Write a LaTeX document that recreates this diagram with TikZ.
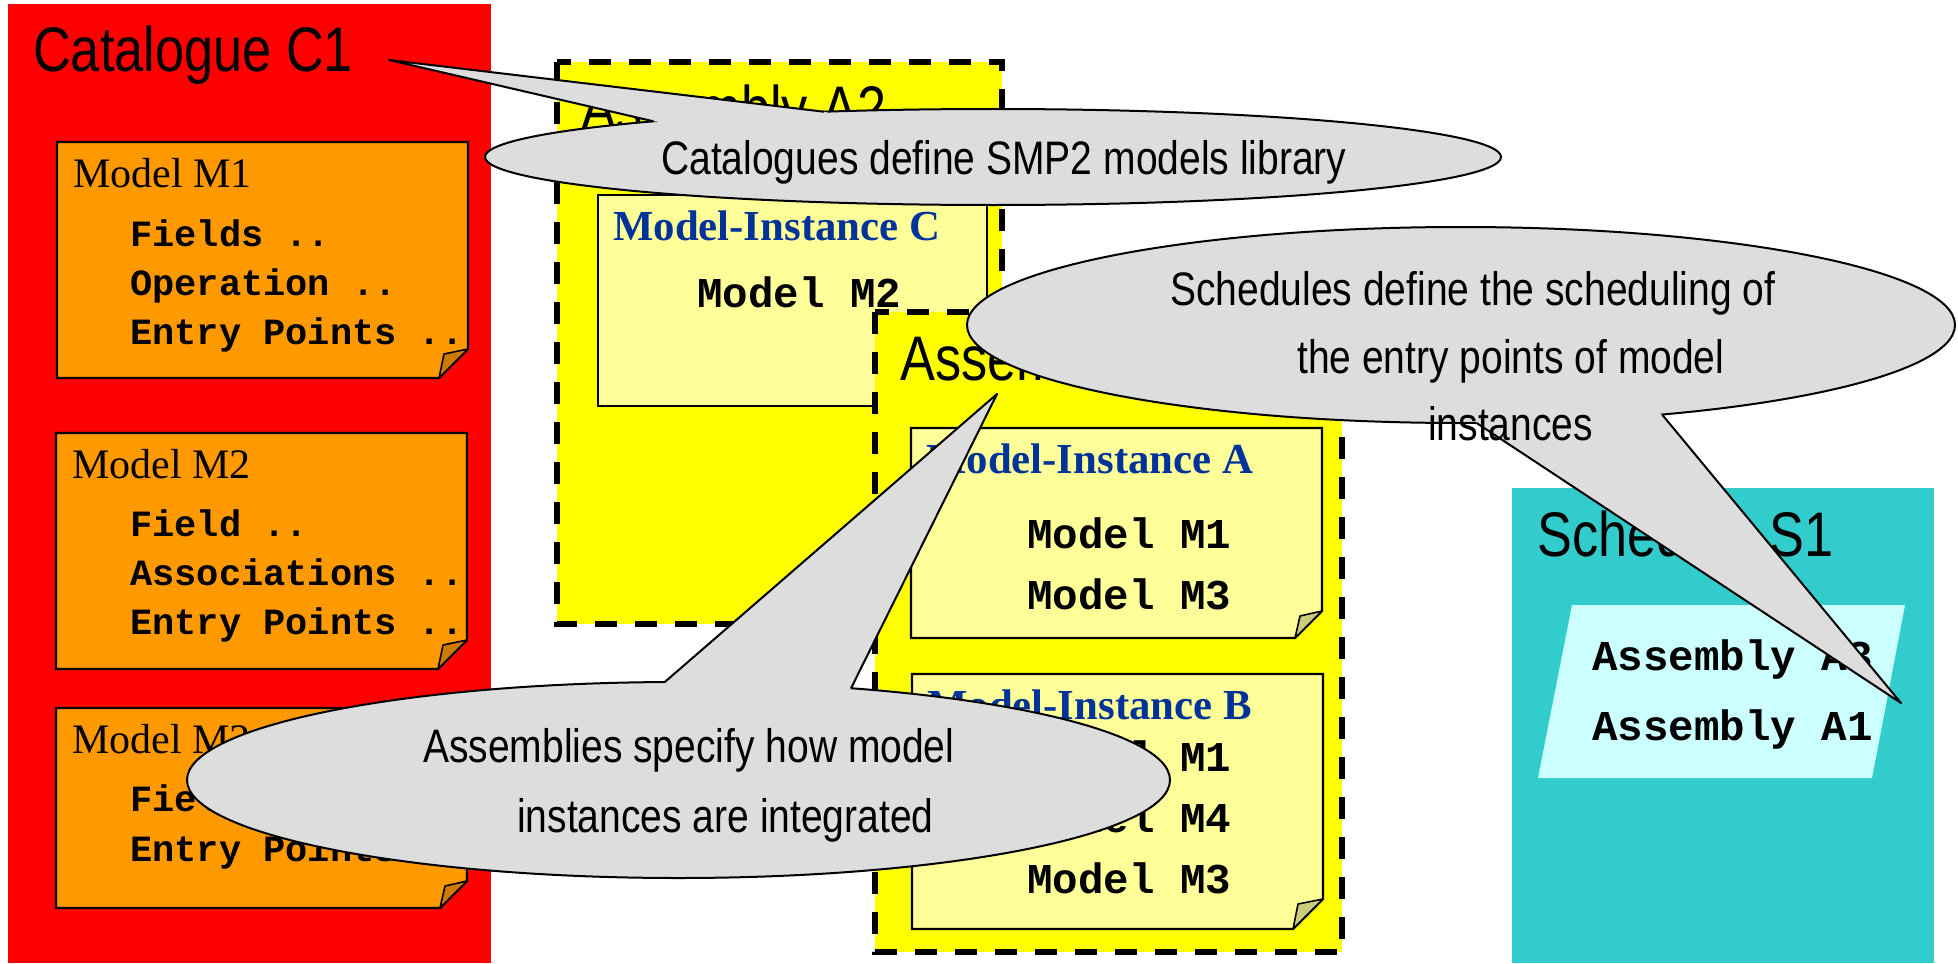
\documentclass[tikz,border=0pt]{standalone}
\usepackage{fontspec}
\setmainfont{Liberation Serif}
\newfontfamily\narrowsans[FakeStretch=0.83]{Liberation Sans}
\newfontfamily\codefont{Liberation Mono}
\usetikzlibrary{shapes.geometric,calc}
\definecolor{redC}{HTML}{FF0000}
\definecolor{orangeM}{HTML}{FF9900}
\definecolor{orangeFold}{HTML}{CC7A00}
\definecolor{yellowA}{HTML}{FFFF00}
\definecolor{paleY}{HTML}{FFFF99}
\definecolor{paleYFold}{HTML}{CCCC7A}
\definecolor{blueT}{HTML}{003399}
\definecolor{tealS}{HTML}{33CCCC}
\definecolor{cyanP}{HTML}{CCFFFF}
\definecolor{grayC}{HTML}{DDDDDD}
\newcommand\foldbox[7]{%
  \draw[boxline, fill=#6] (#1,#2) -- (#3,#2) -- (#3,#4-#5) -- (#3-#5,#4) -- (#1,#4) -- cycle;
  \draw[foldline, fill=#7] (#3,#4-#5) -- (#3-#5+5,#4-#5+5) -- (#3-#5,#4) -- cycle;
}
\begin{document}
\begin{tikzpicture}[x=1pt,y=-1pt,
  boxline/.style={draw=black,line width=2.2pt,line join=miter},
  foldline/.style={draw=black,line width=1.6pt,line join=round},
  asmbox/.style={fill=yellowA,draw=black,line width=6pt,dash pattern=on 22pt off 18pt},
  ttl/.style={anchor=base west,inner sep=0pt,font=\narrowsans\fontsize{63}{63}\selectfont},
  calltext/.style={anchor=base west,inner sep=0pt,font=\narrowsans\fontsize{47}{47}\selectfont},
  mtitle/.style={anchor=base west,inner sep=0pt,font=\fontsize{42}{42}\selectfont},
  ititle/.style={anchor=base west,inner sep=0pt,text=blueT,font=\bfseries\fontsize{42.8}{42.8}\selectfont},
  catcode/.style={anchor=base west,inner sep=0pt,font=\codefont\bfseries\fontsize{37}{37}\selectfont},
  instcode/.style={anchor=base west,inner sep=0pt,font=\codefont\bfseries\fontsize{42.5}{42.5}\selectfont},
  bubble/.style={ellipse,draw=black,fill=grayC,line width=2pt,inner sep=0pt,outer sep=0pt},
  tailfill/.style={fill=grayC},
  tailline/.style={draw=black,line width=2pt,line join=round}
]
\useasboundingbox (0,0) rectangle (1958,963);
\fill[white] (0,0) rectangle (1958,963);

% ---------- Catalogue C1 ----------
\fill[redC] (8,4) rectangle (491,963);
\node[ttl] (catTitle) at (33,72) {Catalogue C1};

\foldbox{57}{142}{468}{378}{29}{orangeM}{orangeFold}
\node[mtitle] (m1t) at (73,187) {Model M1};
\node[catcode] (m1a) at (130,246) {Fields ..};
\node[catcode] (m1b) at (130,295) {Operation ..};
\node[catcode] (m1c) at (130,344) {Entry Points ..};

\foldbox{56}{433}{467}{669}{29}{orangeM}{orangeFold}
\node[mtitle] (m2t) at (72,478) {Model M2};
\node[catcode] (m2a) at (130,536) {Field ..};
\node[catcode] (m2b) at (130,585) {Associations ..};
\node[catcode] (m2c) at (130,634) {Entry Points ..};

\foldbox{56}{708}{467}{908}{27}{orangeM}{orangeFold}
\node[mtitle] (m3t) at (72,753) {Model M3};
\node[catcode] (m3a) at (130,811) {Field ..};
\node[catcode] (m3b) at (130,861) {Entry Points ..};

% ---------- Assembly A2 ----------
\draw[asmbox] (557,62) rectangle (1002,624);
\node[ttl] (a2Title) at (581,131) {Assembly A2};
\draw[boxline, fill=paleY] (598,195) rectangle (987,406);
\node[ititle] (icT) at (613,240) {Model-Instance C};
\node[instcode] (icA) at (697,307) {Model M2};

% ---------- Assembly A1 ----------
\draw[asmbox] (875,312) rectangle (1342,952);
\node[ttl] (a1Title) at (900,380) {Assembly A1};

\foldbox{911}{428}{1322}{638}{27}{paleY}{paleYFold}
\node[ititle] (iaT) at (926,473) {Model-Instance A};
\node[instcode] (iaA) at (1027,548) {Model M1};
\node[instcode] (iaB) at (1027,609) {Model M3};

\foldbox{912}{674}{1323}{929}{30}{paleY}{paleYFold}
\node[ititle] (ibT) at (927,719) {Model-Instance B};
\node[instcode] (ibA) at (1027,771) {Model M1};
\node[instcode] (ibB) at (1027,832) {Model M4};
\node[instcode] (ibC) at (1027,893) {Model M3};

% ---------- Schedule S1 ----------
\fill[tealS] (1512,488) rectangle (1934,963);
\node[ttl] (sTitle) at (1537,556) {Schedule S1};
\fill[cyanP] (1572,605) -- (1905,605) -- (1872,778) -- (1538,778) -- cycle;
\node[instcode] (sA) at (1592,670) {Assembly A3};
\node[instcode] (sB) at (1592,740) {Assembly A1};

% ---------- Callout: catalogues ----------
\node[bubble, minimum width=1016pt, minimum height=96pt] (cb) at (993,157) {};
\coordinate (cbTip) at (389,60);
\fill[tailfill] (cbTip) -- (cb.165.66) -- ($(cb.center)!0.85!(cb.165.66)$) -- ($(cb.center)!0.85!(cb.174.02)$) -- (cb.174.02) -- cycle;
\draw[tailline] (cb.165.66) -- (cbTip) -- (cb.174.02);
\node[calltext] (cbText) at (661,174) {Catalogues define SMP2 models library};

% ---------- Callout: schedules ----------
\node[bubble, minimum width=988pt, minimum height=196pt] (sb) at (1461,325) {};
\coordinate (sbTip) at (1901,703);
\fill[tailfill] (sbTip) -- (sb.336.46) -- ($(sb.center)!0.85!(sb.336.46)$) -- ($(sb.center)!0.85!(sb.279.4)$) -- (sb.279.4) -- cycle;
\draw[tailline] (sb.336.46) -- (sbTip) -- (sb.279.4);
\node[calltext] (sbText1) at (1170,305) {Schedules define the scheduling of};
\node[calltext] (sbText2) at (1297,373) {the entry points of model};
\node[calltext] (sbText3) at (1428,440) {instances};

% ---------- Callout: assemblies ----------
\node[bubble, minimum width=983pt, minimum height=196pt] (ab) at (678.5,780) {};
\coordinate (abTip) at (997,394);
\fill[tailfill] (abTip) -- (ab.98.5) -- ($(ab.center)!0.85!(ab.98.5)$) -- ($(ab.center)!0.85!(ab.28.35)$) -- (ab.28.35) -- cycle;
\draw[tailline] (ab.98.5) -- (abTip) -- (ab.28.35);
\node[calltext] (abText1) at (423,762) {Assemblies specify how model};
\node[calltext] (abText2) at (517,832) {instances are integrated};
\end{tikzpicture}
\end{document}
